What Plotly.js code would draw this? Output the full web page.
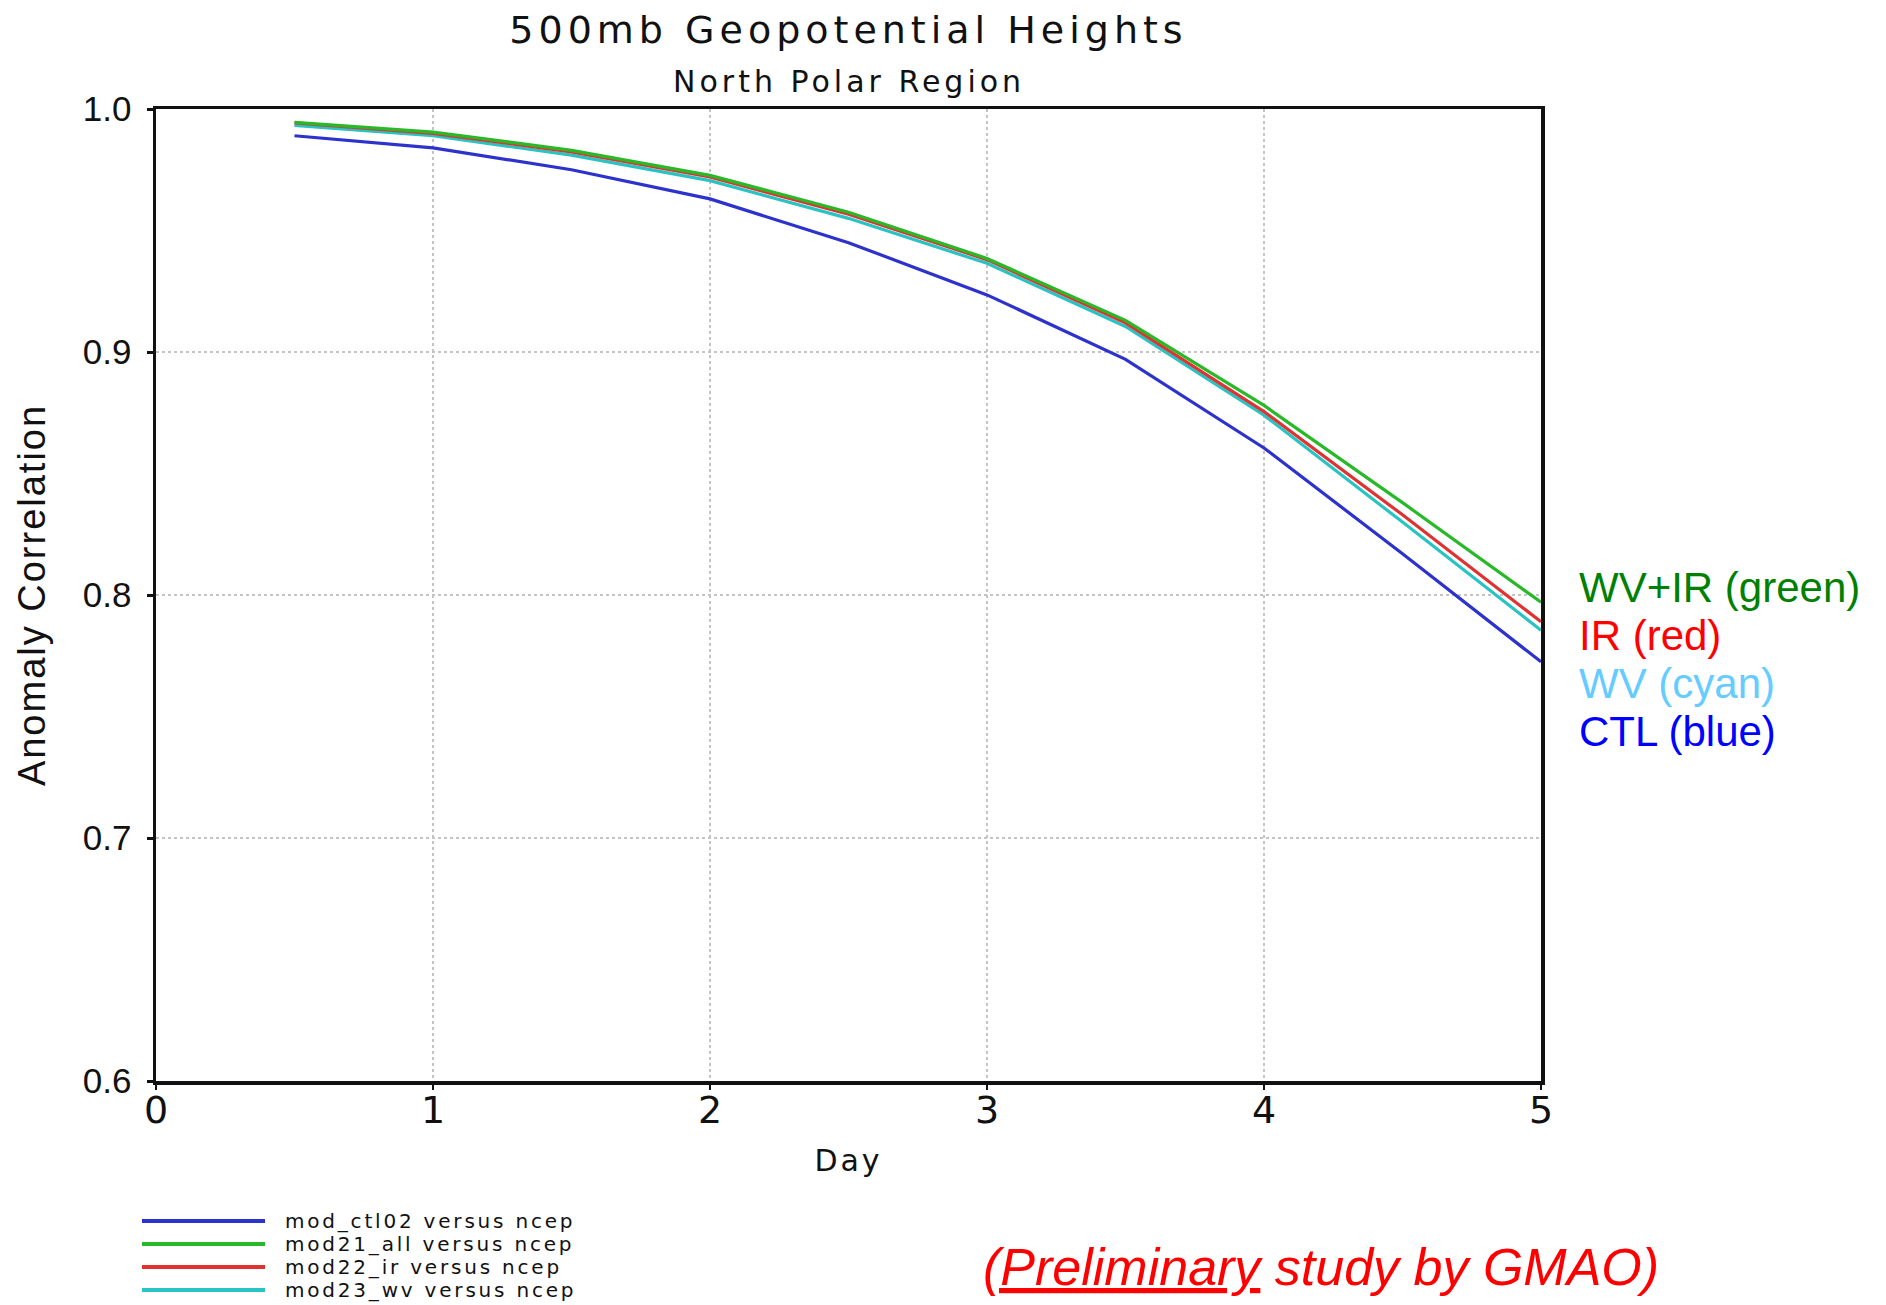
<!DOCTYPE html>
<html>
<head>
<meta charset="utf-8">
<script src="https://cdn.plot.ly/plotly-3.0.1.min.js"></script>
<style>html,body{margin:0;padding:0;background:#fff;}#chart{width:1886px;height:1305px;}</style>
</head>
<body>
<div id="chart"></div>
<script>
// ---- data ----
var days = [0.5, 1, 1.5, 2, 2.5, 3, 3.5, 4, 4.5, 5];
var ctlValues  = [0.989, 0.984, 0.975, 0.963, 0.945, 0.9235, 0.897, 0.8605, 0.817, 0.7725];
var wvirValues = [0.9945, 0.9905, 0.983, 0.9727, 0.9575, 0.9385, 0.913, 0.878, 0.838, 0.797];
var irValues   = [0.9943, 0.990, 0.9823, 0.972, 0.9567, 0.938, 0.912, 0.8755, 0.833, 0.789];
var wvValues   = [0.9932, 0.989, 0.981, 0.9705, 0.955, 0.9365, 0.9105, 0.874, 0.830, 0.7855];
var seriesNames = ["mod_ctl02 versus ncep", "mod21_all versus ncep", "mod22_ir versus ncep", "mod23_wv versus ncep"];
var sideLabels = ["WV+IR (green)", "IR (red)", "WV (cyan)", "CTL (blue)"];
var xTicks = [0, 1, 2, 3, 4, 5];
var yTicks = [0.6, 0.7, 0.8, 0.9, 1.0];
var yTickText = ["0.6", "0.7", "0.8", "0.9", "1.0"];

// ---- styles ----
var cBlue = "rgb(45,50,205)", cGreen = "rgb(40,185,40)", cRed = "rgb(225,50,50)", cCyan = "rgb(40,195,195)";
var grads = '"DejaVu Sans", sans-serif';
var arial = '"Liberation Sans", Arial, sans-serif';

function tr(y, color, name) {
  return {x: days, y: y, type: "scatter", mode: "lines", name: name,
          line: {color: color, width: 3.2}, showlegend: false, hoverinfo: "x+y"};
}
var data = [
  tr(ctlValues, cBlue, seriesNames[0]),
  tr(wvValues, cCyan, seriesNames[3]),
  tr(irValues, cRed, seriesNames[2]),
  tr(wvirValues, cGreen, seriesNames[1])
];

var W = 1886, H = 1305;
var mL = 156, mR = 345, mT = 109, mB = 224;
var pw = W - mL - mR, ph = H - mT - mB;
function px(fx) { return (fx - mL) / pw; }
function py(fy) { return (H - mB - fy) / ph; }

var annotations = [
  {text: '<span style="letter-spacing:4px">North Polar Region</span>', xref: "paper", yref: "paper",
   x: 0.5, y: py(81), xanchor: "center", yanchor: "middle", showarrow: false,
   font: {family: grads, size: 30, color: "#111"}}
];
var sideColors = ["#008000", "#ff0000", "#66ccff", "#0000ff"];
var sideY = [587, 635, 683, 731];
for (var i = 0; i < sideLabels.length; i++) {
  annotations.push({text: sideLabels[i], xref: "paper", yref: "paper", x: px(1577), y: py(sideY[i]),
    xanchor: "left", yanchor: "middle", showarrow: false,
    font: {family: arial, size: 42, color: sideColors[i]}});
}
var legColors = [cBlue, cGreen, cRed, cCyan];
var legY = [1221, 1244, 1267, 1290];
var shapes = [];
for (var j = 0; j < seriesNames.length; j++) {
  annotations.push({text: '<span style="letter-spacing:2.8px">' + seriesNames[j] + '</span>', xref: "paper", yref: "paper",
    x: px(283), y: py(legY[j]), xanchor: "left", yanchor: "middle", showarrow: false,
    font: {family: grads, size: 20, color: "#111"}});
  shapes.push({type: "line", xref: "paper", yref: "paper", x0: px(142), x1: px(265),
    y0: py(legY[j]), y1: py(legY[j]), line: {color: legColors[j], width: 4}});
}
annotations.push({text: '<i><span style="text-decoration:underline">(Preliminary</span> study by GMAO)</i>',
  xref: "paper", yref: "paper", x: px(1321), y: py(1267), xanchor: "center", yanchor: "middle",
  showarrow: false, font: {family: arial, size: 52, color: "#ff0000"}});

var layout = {
  width: W, height: H,
  margin: {l: mL, r: mR, t: mT, b: mB, pad: 0},
  paper_bgcolor: "#fff", plot_bgcolor: "#fff",
  title: {text: '<span style="letter-spacing:5px">500mb Geopotential Heights</span>',
          x: 0.5, xanchor: "center", xref: "paper", y: 1 - 30 / H, yanchor: "middle", yref: "container",
          font: {family: grads, size: 38, color: "#111"}},
  xaxis: {range: [0, 5], tickvals: xTicks, ticktext: xTicks.map(String),
          showgrid: true, gridcolor: "#c4c4c4", griddash: "dot", gridwidth: 2,
          showline: true, linecolor: "#111", linewidth: 3.5, mirror: true,
          ticks: "outside", ticklen: 5, tickwidth: 2, tickcolor: "#111",
          ticklabelstandoff: -12,
          zeroline: false, tickfont: {family: grads, size: 38, color: "#111"},
          title: {text: '<span style="letter-spacing:3px">Day</span>', standoff: 20,
                  font: {family: grads, size: 30, color: "#111"}}},
  yaxis: {range: [0.6, 1.0], tickvals: yTicks, ticktext: yTickText,
          showgrid: true, gridcolor: "#c4c4c4", griddash: "dot", gridwidth: 2,
          showline: true, linecolor: "#111", linewidth: 3.5, mirror: true,
          ticks: "outside", ticklen: 6, tickwidth: 3, tickcolor: "#111",
          ticklabelstandoff: 8,
          zeroline: false, tickfont: {family: arial, size: 35, color: "#111"},
          title: {text: '<span style="letter-spacing:2px">Anomaly Correlation</span>', standoff: 26,
                  font: {family: arial, size: 38, color: "#111"}}},
  annotations: annotations,
  shapes: shapes,
  showlegend: false
};

Plotly.newPlot("chart", data, layout, {displayModeBar: false, staticPlot: true});
</script>
</body>
</html>
